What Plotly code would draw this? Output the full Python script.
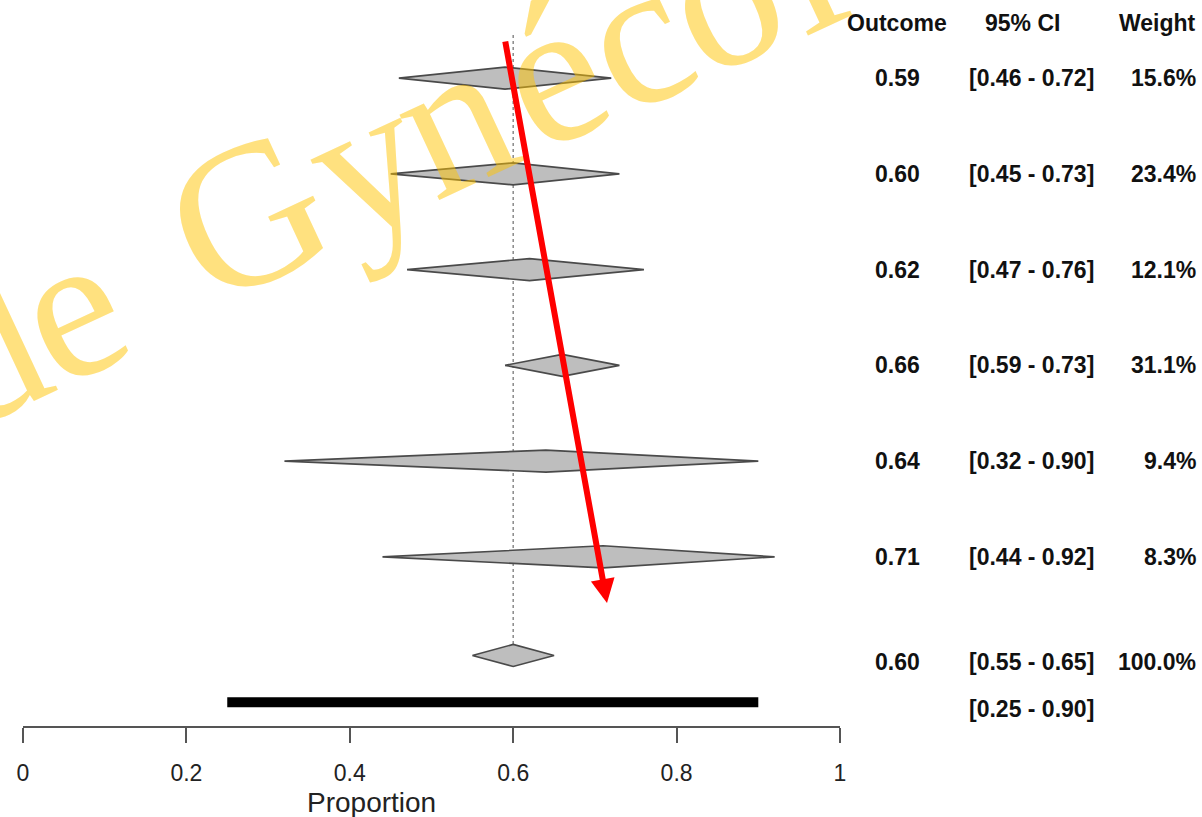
import plotly.graph_objects as go

# ---------------- data ----------------
est = [0.59, 0.60, 0.62, 0.66, 0.64, 0.71]
lo = [0.46, 0.45, 0.47, 0.59, 0.32, 0.44]
hi = [0.72, 0.73, 0.76, 0.73, 0.90, 0.92]
weights = ["15.6%", "23.4%", "12.1%", "31.1%", "9.4%", "8.3%"]
rows = [1, 2, 3, 4, 5, 6]

pooled_est = 0.60
pooled_lo = 0.55
pooled_hi = 0.65
pooled_weight = "100.0%"
pooled_row = 7.03

pred_lo = 0.25
pred_hi = 0.90
pred_row = 7.52

tick_vals = [0, 0.2, 0.4, 0.6, 0.8, 1]
tick_text = ["0", "0.2", "0.4", "0.6", "0.8", "1"]

# watermark letters (decoration) and their centres in page pixels
wm_letters = ["d", "e", "G", "y", "n", "é", "c", "o", "l"]
wm_cx = [-16, 69, 247, 365, 452, 550, 635, 722, 800]
wm_cy = [347, 307, 214, 162, 118, 72, 35, -4, -38]

# ---------------- figure ----------------
W, H = 1202, 817
PLOT_H = 726
fig = go.Figure()
half_h = 0.115
dia_fill = "#BEBEBE"
dia_line = "#4a4a4a"

# reference dotted line at pooled estimate
fig.add_trace(go.Scatter(x=[pooled_est, pooled_est], y=[0.55, pooled_row - half_h],
                         mode="lines", line=dict(color="#8a8a8a", width=1.5, dash="dot"),
                         hoverinfo="skip", showlegend=False))

def diamond(e, l, h, r):
    fig.add_trace(go.Scatter(x=[l, e, h, e, l], y=[r, r - half_h, r, r + half_h, r],
                             mode="lines", fill="toself", fillcolor=dia_fill,
                             line=dict(color=dia_line, width=1.6),
                             hoverinfo="skip", showlegend=False))

for e, l, h, r in zip(est, lo, hi, rows):
    diamond(e, l, h, r)
diamond(pooled_est, pooled_lo, pooled_hi, pooled_row)

# prediction interval bar
fig.add_trace(go.Scatter(x=[pred_lo, pred_hi], y=[pred_row, pred_row], mode="lines",
                         line=dict(color="black", width=10), hoverinfo="skip", showlegend=False))

# ---------------- table ----------------
tfont = dict(family="Liberation Sans, Arial, sans-serif", size=23, color="#111111")
ann = []
col_out = 897 / W
col_ci = 967 / W
col_ci_head = 1022 / W
col_w = 1198 / W
head_row = 0.42
ann.append(dict(x=col_out, y=head_row, text="<b>Outcome</b>", xanchor="center"))
ann.append(dict(x=col_ci_head, y=head_row, text="<b>95% CI</b>", xanchor="center"))
ann.append(dict(x=col_w, y=head_row, text="<b>Weight</b>", xanchor="right"))
for e, l, h, w, r in zip(est, lo, hi, weights, rows):
    ann.append(dict(x=col_out, y=r, text=f"<b>{e:.2f}</b>", xanchor="center"))
    ann.append(dict(x=col_ci, y=r, text=f"<b>[{l:.2f} - {h:.2f}]</b>", xanchor="left"))
    ann.append(dict(x=col_w, y=r, text=f"<b>{w}</b>", xanchor="right"))
ann.append(dict(x=col_out, y=pooled_row + 0.07, text=f"<b>{pooled_est:.2f}</b>", xanchor="center"))
ann.append(dict(x=col_ci, y=pooled_row + 0.07, text=f"<b>[{pooled_lo:.2f} - {pooled_hi:.2f}]</b>", xanchor="left"))
ann.append(dict(x=col_w, y=pooled_row + 0.07, text=f"<b>{pooled_weight}</b>", xanchor="right"))
ann.append(dict(x=col_ci, y=pred_row + 0.07, text=f"<b>[{pred_lo:.2f} - {pred_hi:.2f}]</b>", xanchor="left"))
for a in ann:
    a.update(xref="paper", yref="y", yanchor="middle", showarrow=False, font=tfont)

# x-axis title (R places it under the plotting region)
ann.append(dict(x=371 / W, y=-76 / PLOT_H, xref="paper", yref="paper", text="Proportion",
                showarrow=False, xanchor="center", yanchor="middle",
                font=dict(family="Liberation Sans, Arial, sans-serif", size=28, color="#222222")))

# watermark, letter by letter
wm_font = dict(family="Liberation Serif, Times New Roman, serif", size=205,
               color="rgba(255,195,0,0.5)")
for ch, cx, cy in zip(wm_letters, wm_cx, wm_cy):
    ann.append(dict(x=cx / W, y=1 - cy / PLOT_H, xref="paper", yref="paper", text=ch,
                    textangle=-25, showarrow=False, font=wm_font,
                    xanchor="center", yanchor="middle"))

# red arrow
ann.append(dict(x=607 / W, y=1 - 603 / PLOT_H, xref="paper", yref="paper", text="",
                showarrow=True, ax=-102, ay=-563, arrowcolor="#FF0000", arrowwidth=6,
                arrowhead=2, arrowsize=0.8, standoff=0))

fig.update_layout(
    width=W, height=H, margin=dict(l=0, r=0, t=0, b=H - PLOT_H, autoexpand=False),
    paper_bgcolor="white", plot_bgcolor="white",
    showlegend=False, annotations=ann,
    xaxis=dict(domain=[23 / W, 840 / W], range=[0, 1], showgrid=False, zeroline=False,
               automargin=False,
               showline=True, linecolor="#555555", linewidth=2,
               ticks="outside", ticklen=15, tickwidth=2, tickcolor="#555555",
               tickvals=tick_vals, ticktext=tick_text, ticklabelstandoff=10,
               tickfont=dict(family="Liberation Sans, Arial, sans-serif", size=23, color="#222222")),
    yaxis=dict(range=[7.767, 0.184], visible=False, showgrid=False, zeroline=False,
               automargin=False),
)

fig.write_html("out.html")
